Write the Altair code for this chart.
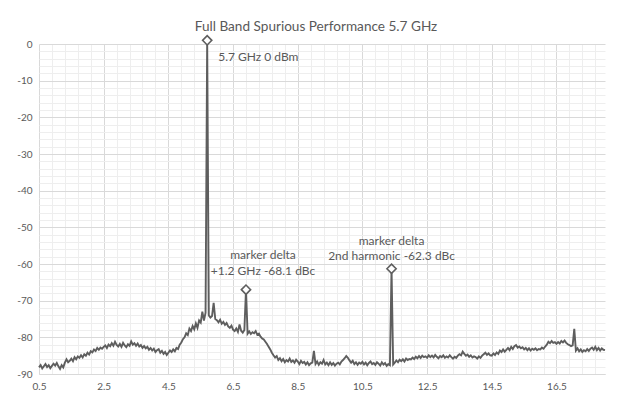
import altair as alt
import pandas as pd

# ---- data ----
START_GHZ = 0.5
STEP_GHZ = 0.05
level_dbm = [
    # 0.50 - 0.95
    -88.2, -87.6, -88.5, -87.9, -87.3, -88.1, -87.6, -88.4, -87.8, -87.2,
    # 1.00 - 1.45
    -87.7, -87.0, -87.9, -88.6, -87.6, -88.2, -86.9, -86.0, -86.8, -86.4,
    # 1.50 - 1.95
    -85.8, -86.5, -85.4, -86.0, -85.2, -85.6, -84.9, -85.5, -84.6, -85.0,
    # 2.00 - 2.45
    -84.2, -84.7, -83.8, -84.1, -83.3, -83.7, -82.9, -83.4, -82.8, -83.1,
    # 2.50 - 2.95
    -82.6, -82.2, -82.9, -82.0, -82.4, -81.6, -82.3, -81.2, -82.1, -82.5,
    # 3.00 - 3.45
    -81.8, -82.6, -81.5, -82.2, -82.7, -81.9, -82.3, -81.1, -82.0, -81.6,
    # 3.50 - 3.95
    -82.3, -81.7, -82.5, -82.1, -82.9, -82.4, -83.0, -82.6, -83.4, -82.9,
    # 4.00 - 4.45
    -83.6, -83.1, -84.0, -83.5, -83.2, -84.2, -83.7, -84.5, -84.0, -84.8,
    # 4.50 - 4.95
    -84.2, -83.6, -84.0, -83.3, -83.8, -82.9, -83.2, -82.0, -81.4, -80.5,
    # 5.00 - 5.45
    -80.0, -78.9, -79.4, -77.6, -78.3, -76.9, -77.8, -76.2, -77.4, -75.4,
    # 5.50 - 5.95
    -76.0, -73.0, -75.4, -73.3, 1.0, -74.0, -74.6, -74.2, -70.6, -75.0,
    # 6.00 - 6.45
    -75.3, -75.9, -75.2, -76.3, -75.8, -76.6, -76.1, -77.0, -77.4, -76.8,
    # 6.50 - 6.95
    -77.9, -78.3, -77.6, -78.5, -76.5, -78.2, -78.7, -78.0, -67.0, -79.0,
    # 7.00 - 7.45
    -78.4, -79.1, -78.6, -78.9, -78.3, -79.3, -79.0, -79.8, -80.3, -80.6,
    # 7.50 - 7.95
    -81.2, -81.8, -82.6, -83.3, -84.2, -84.9, -85.5, -85.1, -86.2, -85.7,
    # 8.00 - 8.45
    -86.5, -85.9, -86.8, -86.2, -86.6, -85.8, -86.7, -86.3, -86.9, -86.1,
    # 8.50 - 8.95
    -86.6, -87.3, -86.4, -87.0, -86.7, -87.4, -86.8, -87.6, -87.1, -86.9,
    # 9.00 - 9.45
    -83.7, -87.3, -86.6, -87.5, -86.8, -87.2, -86.2, -87.4, -86.9, -87.6,
    # 9.50 - 9.95
    -86.8, -87.5, -87.0, -87.7, -87.2, -86.9, -87.4, -86.6, -86.2, -85.7,
    # 10.00 - 10.45
    -85.1, -85.6, -86.3, -86.9, -86.4, -87.3, -86.8, -87.5, -86.9, -87.2,
    # 10.50 - 10.95
    -86.7, -87.4, -86.9, -87.6, -87.0, -86.6, -87.3, -87.0, -87.5, -86.8,
    # 11.00 - 11.45
    -87.2, -87.7, -86.8, -87.4, -87.0, -87.8, -87.3, -87.6, -61.3, -87.4,
    # 11.50 - 11.95
    -86.9, -86.3, -86.8, -86.1, -86.5, -86.0, -86.6, -85.8, -86.2, -85.9,
    # 12.00 - 12.45
    -86.0, -85.5, -85.9, -85.3, -85.7, -85.1, -85.6, -85.0, -85.4, -85.2,
    # 12.50 - 12.95
    -85.6, -84.9, -85.4, -85.0, -85.5, -84.8, -85.3, -85.7, -85.1, -85.4,
    # 13.00 - 13.45
    -84.9, -85.6, -85.2, -85.5, -84.9, -85.4, -85.8, -85.3, -85.6, -85.0,
    # 13.50 - 13.95
    -84.6, -84.9, -83.9, -84.5, -85.0, -84.7, -85.3, -84.9, -85.5, -85.2,
    # 14.00 - 14.45
    -85.4, -85.8, -85.2, -85.6, -85.0, -84.6, -84.2, -84.8, -84.4, -84.9,
    # 14.50 - 14.95
    -85.0, -84.4, -84.8, -84.1, -84.5, -83.6, -84.0, -83.3, -83.9, -83.4,
    # 15.00 - 15.45
    -82.9, -83.5, -82.6, -83.2, -82.4, -82.1, -82.8, -82.5, -83.0, -82.7,
    # 15.50 - 15.95
    -83.3, -82.9, -83.5, -83.0, -83.6, -83.1, -83.4, -83.0, -83.5, -83.2,
    # 16.00 - 16.45
    -83.3, -82.8, -83.1, -82.5, -82.0, -81.2, -81.6, -81.0, -81.5, -81.3,
    # 16.50 - 16.95
    -81.8, -81.3, -81.7, -81.0, -81.4, -80.9, -81.5, -81.9, -82.1, -82.4,
    # 17.00 - 17.45
    -82.2, -77.7, -83.6, -83.0, -83.8, -83.3, -84.0, -83.5, -83.8, -83.2,
    # 17.50 - 17.95
    -83.7, -83.1, -82.8, -83.4, -82.6, -83.5, -82.9, -83.6, -83.0, -83.4,
    # 18.00
    -83.5,
]
freq_ghz = [round(START_GHZ + STEP_GHZ * i, 2) for i in range(len(level_dbm))]

marker_freq = [5.7, 6.9, 11.4]
marker_level = [1.0, -67.0, -61.3]

x_ticks = [round(0.5 + 0.4 * k, 2) for k in range(44)]      # minor grid every 0.4
x_major = [0.5, 2.5, 4.5, 6.5, 8.5, 10.5, 12.5, 14.5, 16.5]
y_ticks = list(range(-90, 1, 2))                            # minor grid every 2

title_text = "Full Band Spurious Performance 5.7 GHz"

trace = pd.DataFrame({"freq": freq_ghz, "level": level_dbm})
markers = pd.DataFrame({"freq": marker_freq, "level": marker_level})

FONT = "Lato"
TXT = "#595959"
LINE = "#5e5e5e"
MAJOR = "#d9d9d9"
MINOR = "#eeeeee"

x_major_test = "indexof(%s, datum.value) >= 0" % str(x_major)

x_scale = alt.Scale(domain=[0.5, 18.0], nice=False, zero=False)
y_scale = alt.Scale(domain=[-90, 0], nice=False, zero=False)

x_axis = alt.Axis(
    values=x_ticks, title=None, ticks=False, domain=True, domainColor=MAJOR,
    grid=True,
    gridColor={"condition": {"test": x_major_test, "value": MAJOR}, "value": MINOR},
    labelExpr="%s ? '' + datum.value : ''" % x_major_test,
    labelFlush=False, labelOverlap=False, labelPadding=7,
    labelFont=FONT, labelFontSize=10, labelColor=TXT,
)
y_axis = alt.Axis(
    values=y_ticks, title=None, ticks=False, domain=False,
    grid=True,
    gridColor={"condition": {"test": "datum.value % 10 == 0", "value": MAJOR}, "value": MINOR},
    labelExpr="datum.value % 10 == 0 ? '' + datum.value : ''",
    labelOverlap=False, labelFlush=False, labelPadding=7,
    labelFont=FONT, labelFontSize=10, labelColor=TXT,
)


def X():
    return alt.X("freq:Q", scale=x_scale, axis=x_axis)


def Y():
    return alt.Y("level:Q", scale=y_scale, axis=y_axis)


line = alt.Chart(trace).mark_line(color=LINE, strokeWidth=1.9).encode(x=X(), y=Y())

pts = alt.Chart(markers).mark_point(
    shape="diamond", size=85, fill="white", stroke=LINE, strokeWidth=1.6, opacity=1
).encode(x=X(), y=Y())

ann_rows = [
    # marker index, text, dx, dy, align
    (0, "5.7 GHz 0 dBm", 11, 17, "left"),
    (1, "marker delta", 17, -35, "center"),
    (1, "+1.2 GHz -68.1 dBc", 17, -19, "center"),
    (2, "marker delta", 0, -28, "center"),
    (2, "2nd harmonic -62.3 dBc", 0, -12.5, "center"),
]
texts = []
for idx, txt, dx, dy, al in ann_rows:
    d = pd.DataFrame({"freq": [marker_freq[idx]], "level": [marker_level[idx]], "t": [txt]})
    texts.append(
        alt.Chart(d).mark_text(
            font=FONT, fontSize=12, color=TXT, dx=dx, dy=dy, align=al, baseline="middle"
        ).encode(x=X(), y=Y(), text="t:N")
    )

chart = alt.layer(line, pts, *texts).properties(
    width=566,
    height=330,
    title=alt.TitleParams(
        title_text, font=FONT, fontSize=13.6, fontWeight="normal", color=TXT,
        anchor="middle", frame="group", dx=-6, dy=3, offset=2,
    ),
    autosize=alt.AutoSizeParams(type="none"),
    padding={"left": 31, "top": 36, "right": 5, "bottom": 18},
).configure_view(strokeWidth=0)

chart.save("out.html", embed_options={"renderer": "svg", "actions": False})
